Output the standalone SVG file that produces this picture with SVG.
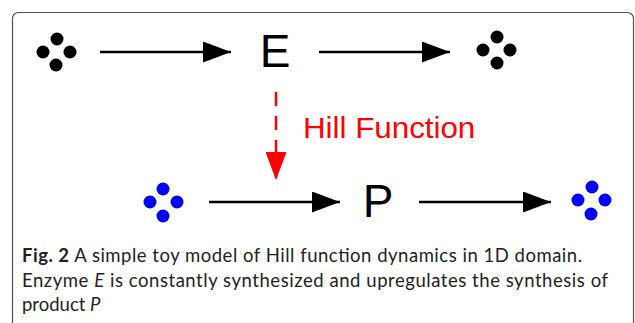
<svg xmlns="http://www.w3.org/2000/svg" width="635" height="323" viewBox="0 0 635 323">
<defs>
<style>
.frame{fill:#fff;stroke:#555;stroke-width:1.2}
.blk{fill:#000}
.blu{fill:#0000ff}
.conn{stroke:#000;stroke-width:2.5;fill:none}
.hill{stroke:#ff0000;stroke-width:2.5;fill:none;stroke-dasharray:14 10}
.lbl{font-family:"Liberation Sans",Arial,sans-serif;font-size:46px;fill:#000}
.red{font-family:"Liberation Sans",Arial,sans-serif;font-size:29px;fill:#ff0000}
.cap{font-family:Lato,"Open Sans",sans-serif;font-size:18.5px;fill:#222}
</style>
<marker id="ah" viewBox="0 0 28 21" refX="28" refY="10.5" markerWidth="28" markerHeight="21" markerUnits="userSpaceOnUse" orient="auto"><path d="M0,0 L28,10.5 L0,21 Z" fill="#000"/></marker>
<marker id="ahr" viewBox="0 0 28 21" refX="28" refY="10.5" markerWidth="28" markerHeight="21" markerUnits="userSpaceOnUse" orient="auto"><path d="M0,0 L28,10.5 L0,21 Z" fill="#ff0000"/></marker>
</defs>
<rect class="frame" x="12.5" y="12.5" width="621" height="330" rx="6"/>
<g id="src1"><circle class="blk" cx="57" cy="39" r="6.5"/><circle class="blk" cx="43" cy="52" r="6.5"/><circle class="blk" cx="70" cy="52" r="6.5"/><circle class="blk" cx="56" cy="65" r="6.5"/></g>
<g id="E"><text class="lbl" x="275" y="67" text-anchor="middle">E</text></g>
<g id="sink1"><circle class="blk" cx="497" cy="37" r="6.5"/><circle class="blk" cx="483" cy="50" r="6.5"/><circle class="blk" cx="510" cy="50" r="6.5"/><circle class="blk" cx="497" cy="63" r="6.5"/></g>
<g id="src2"><circle class="blu" cx="163" cy="189" r="6.5"/><circle class="blu" cx="150" cy="202" r="6.5"/><circle class="blu" cx="177" cy="202" r="6.5"/><circle class="blu" cx="163" cy="216" r="6.5"/></g>
<g id="P"><text class="lbl" x="378" y="217" text-anchor="middle">P</text></g>
<g id="sink2"><circle class="blu" cx="592" cy="187" r="6.5"/><circle class="blu" cx="578" cy="200" r="6.5"/><circle class="blu" cx="605" cy="200" r="6.5"/><circle class="blu" cx="591" cy="214" r="6.5"/></g>
<g id="connectors">
<line class="conn" x1="100" y1="52" x2="231" y2="52" marker-end="url(#ah)"/>
<line class="conn" x1="319" y1="52" x2="450" y2="52" marker-end="url(#ah)"/>
<line class="conn" x1="209" y1="202" x2="340" y2="202" marker-end="url(#ah)"/>
<line class="conn" x1="419" y1="202" x2="551" y2="202" marker-end="url(#ah)"/>
<line class="hill" x1="276" y1="92" x2="276" y2="180" marker-end="url(#ahr)"/>
<text class="red" transform="translate(303 138) scale(1.08 1)" x="0" y="0">Hill Function</text>
</g>
<g id="caption">
<text class="cap" x="22" y="262" textLength="560" lengthAdjust="spacing"><tspan font-weight="bold">Fig. 2</tspan> A simple toy model of Hill function dynamics in 1D domain.</text>
<text class="cap" x="22" y="287" textLength="586" lengthAdjust="spacing">Enzyme <tspan font-style="italic">E</tspan> is constantly synthesized and upregulates the synthesis of</text>
<text class="cap" x="22" y="311">product <tspan font-style="italic">P</tspan></text>
</g>
</svg>
